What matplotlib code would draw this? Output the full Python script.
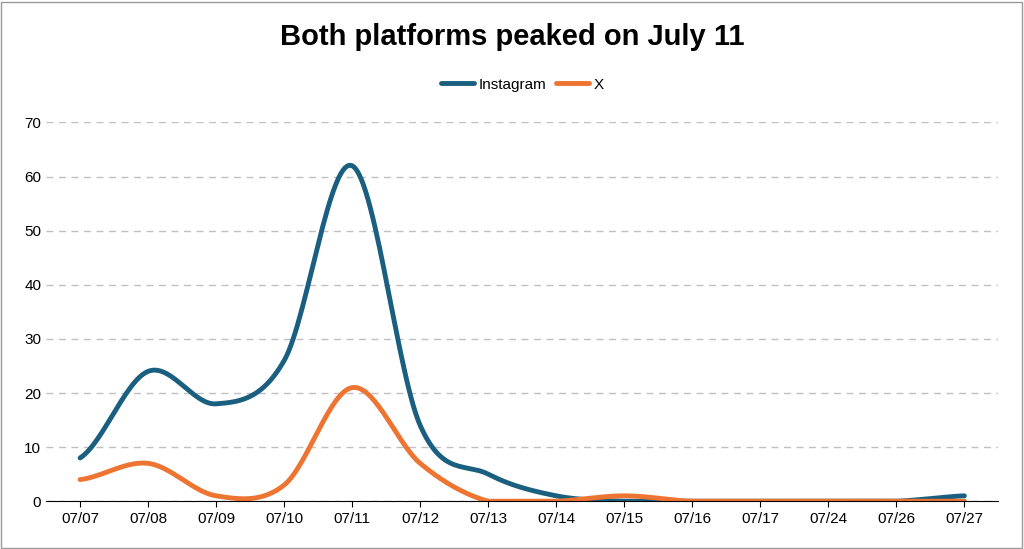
import numpy as np
import matplotlib.pyplot as plt
from matplotlib.patches import Rectangle

dates = ["07/07", "07/08", "07/09", "07/10", "07/11", "07/12", "07/13",
         "07/14", "07/15", "07/16", "07/17", "07/24", "07/26", "07/27"]
instagram = [8, 24, 18, 26, 62, 14, 5, 1, 0, 0, 0, 0, 0, 1]
x_vals = [4, 7, 1, 3, 21, 7, 0, 0, 1, 0, 0, 0, 0, 0]


def smooth(y, n=30, t=0.5):
    # cardinal spline through the points, like the spreadsheet's smoothed line
    y = np.asarray(y, float)
    p = np.concatenate([[y[0]], y, [y[-1]]])
    xs, ys = [], []
    for i in range(len(y) - 1):
        p0, p1, p2, p3 = p[i], p[i + 1], p[i + 2], p[i + 3]
        m1 = t * (p2 - p0)
        m2 = t * (p3 - p1)
        s = np.linspace(0, 1, n, endpoint=False)
        h00 = 2 * s**3 - 3 * s**2 + 1
        h10 = s**3 - 2 * s**2 + s
        h01 = -2 * s**3 + 3 * s**2
        h11 = s**3 - s**2
        xs.append(i + s)
        ys.append(h00 * p1 + h10 * m1 + h01 * p2 + h11 * m2)
    xs.append([len(y) - 1])
    ys.append([y[-1]])
    return np.concatenate(xs), np.clip(np.concatenate(ys), 0, None)


plt.rcParams['font.family'] = ['Liberation Sans', 'DejaVu Sans']
fig = plt.figure(figsize=(10.24, 5.49), dpi=100)
ax = fig.add_axes([0.045, 0.087, 0.93, 0.69])

xi, yi = smooth(instagram)
ax.plot(xi, yi, color='#1b5f80', lw=3.5, label='Instagram', solid_capstyle='round')
xx, yx = smooth(x_vals)
ax.plot(xx, yx, color='#ee7432', lw=3.5, label='X', solid_capstyle='round')

ax.set_xlim(-0.5, len(dates) - 0.5)
ax.set_ylim(0, 70)
ax.set_yticks(range(0, 71, 10))
ax.set_xticks(range(len(dates)))
ax.set_xticklabels(dates)
ax.tick_params(labelsize=11, length=0)
ax.tick_params(axis='x', length=4, color='black')
ax.yaxis.grid(True, linestyle=(0, (5, 4)), color='#c0c0c0', lw=1)
ax.set_axisbelow(True)
for s in ['top', 'right', 'left']:
    ax.spines[s].set_visible(False)
ax.spines['bottom'].set_color('black')

fig.text(0.5, 0.933, "Both platforms peaked on July 11", ha='center', va='center',
         fontsize=21, fontweight='bold')
ax.legend(loc='center', bbox_to_anchor=(0.5, 1.10), ncol=2, frameon=False,
          fontsize=11, handlelength=2.2, columnspacing=0.6, handletextpad=0.3)

fig.patches.append(Rectangle((0.001, 0.002), 0.997, 0.995, transform=fig.transFigure,
                             fill=False, edgecolor='#999999', lw=1))
fig.savefig('out.png', dpi=100)
